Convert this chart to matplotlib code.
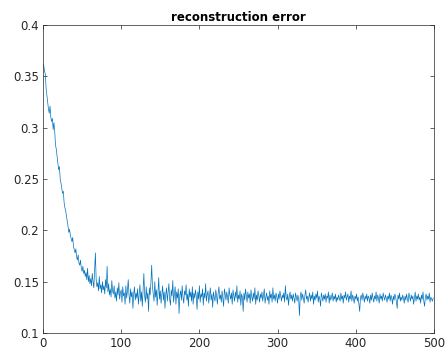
import numpy as np
import matplotlib.pyplot as plt

# reconstruction error per iteration
err = [
    0.362, 0.360, 0.355, 0.352, 0.338, 0.331, 0.324, 0.318, 0.314, 0.321, 0.310, 0.306, 0.309, 0.298, 0.305, 0.296, 0.283, 0.279, 0.272, 0.266,
    0.259, 0.262, 0.250, 0.246, 0.241, 0.236, 0.238, 0.227, 0.222, 0.219, 0.214, 0.209, 0.204, 0.198, 0.201, 0.195, 0.192, 0.189, 0.193, 0.184,
    0.181, 0.178, 0.182, 0.174, 0.171, 0.176, 0.168, 0.166, 0.171, 0.163, 0.160, 0.165, 0.158, 0.161, 0.155, 0.159, 0.152, 0.163, 0.150, 0.156,
    0.148, 0.153, 0.146, 0.158, 0.150, 0.144, 0.160, 0.178, 0.152, 0.145, 0.149, 0.141, 0.155, 0.143, 0.147, 0.139, 0.150, 0.142, 0.146, 0.138,
    0.152, 0.144, 0.165, 0.140, 0.148, 0.137, 0.143, 0.135, 0.151, 0.141, 0.138, 0.146, 0.134, 0.140, 0.131, 0.144, 0.137, 0.149, 0.133, 0.139,
    0.142, 0.130, 0.145, 0.136, 0.139, 0.128, 0.146, 0.134, 0.141, 0.152, 0.137, 0.129, 0.143, 0.135, 0.140, 0.124, 0.138, 0.145, 0.132, 0.139,
    0.134, 0.143, 0.128, 0.137, 0.147, 0.131, 0.140, 0.126, 0.142, 0.158, 0.136, 0.130, 0.145, 0.133, 0.139, 0.121, 0.144, 0.137, 0.149, 0.166,
    0.145, 0.138, 0.131, 0.150, 0.135, 0.142, 0.127, 0.139, 0.154, 0.133, 0.141, 0.129, 0.137, 0.146, 0.132, 0.140, 0.124, 0.138, 0.144, 0.131,
    0.139, 0.148, 0.133, 0.127, 0.142, 0.136, 0.151, 0.130, 0.138, 0.145, 0.128, 0.140, 0.134, 0.143, 0.119, 0.137, 0.141, 0.132, 0.146, 0.135,
    0.129, 0.141, 0.137, 0.147, 0.132, 0.138, 0.126, 0.143, 0.135, 0.140, 0.131, 0.145, 0.128, 0.139, 0.134, 0.142, 0.136, 0.123, 0.140, 0.133,
    0.146, 0.130, 0.138, 0.135, 0.143, 0.127, 0.139, 0.134, 0.148, 0.131, 0.137, 0.141, 0.129, 0.136, 0.144, 0.132, 0.138, 0.125, 0.140, 0.135,
    0.131, 0.142, 0.136, 0.128, 0.139, 0.145, 0.133, 0.137, 0.130, 0.141, 0.134, 0.126, 0.143, 0.138, 0.132, 0.140, 0.135, 0.129, 0.144, 0.137,
    0.133, 0.139, 0.128, 0.142, 0.136, 0.131, 0.140, 0.134, 0.146, 0.130, 0.137, 0.133, 0.141, 0.127, 0.138, 0.135, 0.121, 0.139, 0.132, 0.143,
    0.136, 0.130, 0.140, 0.134, 0.138, 0.129, 0.142, 0.135, 0.131, 0.139, 0.133, 0.144, 0.128, 0.137, 0.132, 0.141, 0.136, 0.130, 0.138, 0.134,
    0.140, 0.131, 0.137, 0.143, 0.129, 0.135, 0.139, 0.132, 0.136, 0.128, 0.141, 0.134, 0.138, 0.130, 0.144, 0.133, 0.137, 0.131, 0.139, 0.135,
    0.129, 0.138, 0.133, 0.141, 0.136, 0.131, 0.137, 0.134, 0.139, 0.130, 0.146, 0.135, 0.132, 0.138, 0.127, 0.136, 0.140, 0.133, 0.137, 0.131,
    0.138, 0.134, 0.129, 0.139, 0.135, 0.131, 0.137, 0.133, 0.117, 0.136, 0.140, 0.132, 0.138, 0.134, 0.129, 0.137, 0.142, 0.133, 0.136, 0.130,
    0.135, 0.139, 0.131, 0.137, 0.133, 0.140, 0.128, 0.136, 0.132, 0.138, 0.134, 0.141, 0.130, 0.136, 0.133, 0.126, 0.139, 0.135, 0.131, 0.137,
    0.133, 0.138, 0.130, 0.136, 0.134, 0.140, 0.129, 0.137, 0.132, 0.135, 0.139, 0.131, 0.136, 0.133, 0.138, 0.130, 0.135, 0.132, 0.137, 0.134,
    0.131, 0.139, 0.133, 0.136, 0.129, 0.137, 0.134, 0.140, 0.132, 0.135, 0.138, 0.130, 0.136, 0.133, 0.141, 0.131, 0.137, 0.134, 0.129, 0.136,
    0.133, 0.138, 0.131, 0.135, 0.128, 0.121, 0.134, 0.137, 0.132, 0.139, 0.135, 0.130, 0.136, 0.133, 0.138, 0.131, 0.136, 0.134, 0.129, 0.137,
    0.132, 0.139, 0.134, 0.130, 0.136, 0.133, 0.140, 0.131, 0.137, 0.134, 0.129, 0.138, 0.133, 0.136, 0.131, 0.139, 0.135, 0.132, 0.137, 0.134,
    0.130, 0.136, 0.133, 0.139, 0.131, 0.137, 0.134, 0.128, 0.136, 0.132, 0.138, 0.135, 0.130, 0.124, 0.137, 0.133, 0.139, 0.131, 0.135, 0.132,
    0.137, 0.134, 0.129, 0.136, 0.132, 0.138, 0.133, 0.130, 0.139, 0.135, 0.131, 0.137, 0.133, 0.136, 0.128, 0.134, 0.140, 0.131, 0.136, 0.133,
    0.138, 0.132, 0.135, 0.129, 0.137, 0.133, 0.140, 0.131, 0.126, 0.135, 0.138, 0.132, 0.136, 0.133, 0.139, 0.130, 0.135, 0.133, 0.131, 0.134,
]
iters = np.arange(len(err))

xticks = [0, 100, 200, 300, 400, 500]
yticks = [0.1, 0.15, 0.2, 0.25, 0.3, 0.35, 0.4]
ytick_labels = ['0.1', '0.15', '0.2', '0.25', '0.3', '0.35', '0.4']

axis_grey = '#262626'

fig = plt.figure(figsize=(4.46, 3.56), dpi=100)
ax = fig.add_axes([0.0964, 0.0646, 0.8766, 0.8654])
ax.plot(iters, err, color='#0072BD', linewidth=0.5)

ax.set_xlim(0, 500)
ax.set_ylim(0.1, 0.4)
ax.set_xticks(xticks)
ax.set_yticks(yticks)
ax.set_yticklabels(ytick_labels)
ax.tick_params(direction='in', top=True, right=True, length=3, width=0.5,
               colors=axis_grey, labelsize=8.5, pad=3)
for side in ax.spines.values():
    side.set_color(axis_grey)
    side.set_linewidth(0.5)

ax.set_title('reconstruction error', fontsize=8.5, fontweight='bold', pad=3)

fig.savefig('out.png', dpi=100)
